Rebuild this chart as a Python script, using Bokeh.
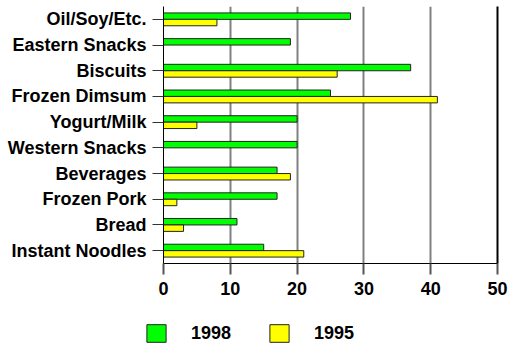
from bokeh.plotting import figure
from bokeh.layouts import column, row
from bokeh.models import (FactorRange, Range1d, FixedTicker, LinearAxis, Legend,
                          LegendItem, ColumnDataSource)
from bokeh.transform import dodge
from bokeh.embed import file_html
from bokeh.resources import INLINE

categories = ["Oil/Soy/Etc.", "Eastern Snacks", "Biscuits", "Frozen Dimsum",
              "Yogurt/Milk", "Western Snacks", "Beverages", "Frozen Pork",
              "Bread", "Instant Noodles"]
values_1998 = [28, 19, 37, 25, 20, 20, 17, 17, 11, 15]
values_1995 = [8, 0, 26, 41, 5, 0, 19, 2, 3, 21]
series_labels = ["1998", "1995"]
series_colors = ["#00FF00", "#FFFF00"]
series_fields = ["v98", "v95"]
x_ticks = [0, 10, 20, 30, 40, 50]

FONT = "Liberation Sans"

src = ColumnDataSource(dict(cat=categories, v98=values_1998, v95=values_1995))

p = figure(width=509, height=305, output_backend="svg", toolbar_location=None,
           y_range=FactorRange(factors=categories[::-1]),
           x_range=Range1d(0, 50),
           min_border_left=163, min_border_right=12, min_border_top=6,
           min_border_bottom=42)
p.outline_line_color = None
p.background_fill_color = "white"
p.border_fill_color = "white"

p.hbar(y=dodge("cat", 0.125, range=p.y_range), right="v98", left=0,
       height=0.25, source=src, fill_color=series_colors[0],
       line_color="#222222", line_width=1)
p.hbar(y=dodge("cat", -0.125, range=p.y_range), right="v95", left=0,
       height=0.25, source=src, fill_color=series_colors[1],
       line_color="#222222", line_width=1)

# x axis
xa = p.xaxis[0]
xa.ticker = FixedTicker(ticks=x_ticks)
xa.axis_line_color = "black"
xa.axis_line_width = 1
xa.major_tick_out = 11
xa.major_tick_in = 0
xa.minor_tick_line_color = None
xa.major_tick_line_color = "#555555"
xa.major_tick_line_width = 2
xa.major_label_standoff = 7
xa.major_label_text_font = FONT
xa.major_label_text_font_style = "bold"
xa.major_label_text_font_size = "18px"
xa.major_label_text_color = "black"

# y axis
ya = p.yaxis[0]
ya.axis_line_color = "black"
ya.axis_line_width = 1
ya.major_tick_out = 11
ya.major_tick_in = 0
ya.major_tick_line_color = "#333333"
ya.major_label_standoff = 6
ya.major_label_text_font = FONT
ya.major_label_text_font_style = "bold"
ya.major_label_text_font_size = "18px"
ya.major_label_text_color = "black"

# right border as an axis line
ra = LinearAxis(ticker=FixedTicker(ticks=[]), major_label_text_font_size="0px",
                major_tick_line_color=None, minor_tick_line_color=None,
                axis_line_color="black", axis_line_width=2)
p.add_layout(ra, "right")

p.ygrid.grid_line_color = None
p.xgrid.ticker = FixedTicker(ticks=x_ticks)
p.xgrid.grid_line_color = "#808080"
p.xgrid.grid_line_width = 2

# legend strip: same series drawn out of view, used only as legend swatches
lp = figure(width=509, height=40, output_backend="svg", toolbar_location=None,
            x_range=Range1d(0, 50), y_range=Range1d(1000, 1001),
            x_axis_type=None, y_axis_type=None,
            min_border_left=0, min_border_right=0, min_border_top=0,
            min_border_bottom=0)
lp.outline_line_color = None
lp.xgrid.visible = False
lp.ygrid.visible = False
items = []
for lab, col, fld in zip(series_labels, series_colors, series_fields):
    r = lp.hbar(y=fld, right=fld, left=0, height=0.25, source=src,
                fill_color=col, line_color="#222222", line_width=1)
    items.append(LegendItem(label=lab, renderers=[r]))

legend = Legend(items=items, orientation="horizontal", location=(144, 1),
                glyph_width=24, glyph_height=22, label_standoff=23, spacing=36,
                padding=0, margin=0, border_line_color=None,
                background_fill_alpha=0,
                label_text_font=FONT, label_text_font_style="bold",
                label_text_font_size="18px", label_text_color="black",
                label_height=22)
lp.add_layout(legend, "center")

layout = column(p, row(lp, spacing=0), spacing=0)
open("out.html", "w").write(file_html(layout, INLINE))
